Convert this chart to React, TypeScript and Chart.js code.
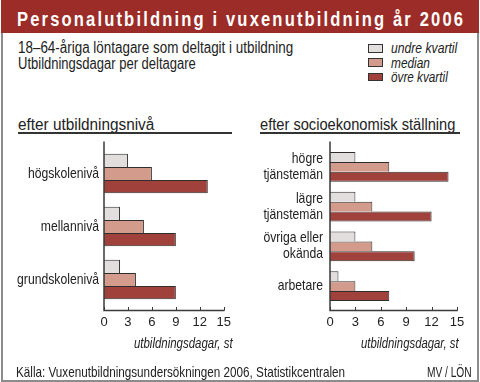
import React, { useEffect, useLayoutEffect, useRef } from "react";
import { Chart, registerables } from "chart.js";

Chart.register(...registerables);

const FONT = "'Liberation Sans', Arial, sans-serif";
const LABEL_SX = 0.84;

const seriesNames = ["undre kvartil", "median", "övre kvartil"];
const seriesColors = ["#e2dede", "#d39b8b", "#a0423b"];

const eduCategories = ["högskolenivå", "mellannivå", "grundskolenivå"];
const eduLower = [3, 2, 2];
const eduMedian = [6, 5, 4];
const eduUpper = [13, 9, 9];

const socCategories = [["högre", "tjänstemän"], ["lägre", "tjänstemän"], ["övriga eller", "okända"], ["arbetare"]];
const socLower = [3, 3, 3, 1];
const socMedian = [7, 5, 5, 3];
const socUpper = [14, 12, 10, 7];

const xTickStep = 3;
const xMax = 15;

const axisPlugin = {
  id: "axisLines",
  afterDatasetsDraw(chart: any) {
    const { ctx, chartArea } = chart;
    const { left, right, top, bottom } = chartArea;
    const xs = chart.scales.x;
    const ext = 4.5;
    ctx.save();
    ctx.strokeStyle = "#3a3a3a";
    ctx.lineWidth = 1.5;
    ctx.beginPath();
    ctx.moveTo(left, top - ext - 1);
    ctx.lineTo(left, bottom + ext);
    ctx.lineTo(right + 0.75, bottom + ext);
    ctx.stroke();
    ctx.lineWidth = 1;
    xs.ticks.forEach((t: any) => {
      const px = Math.round(xs.getPixelForValue(t.value)) + 0.5;
      ctx.beginPath();
      ctx.moveTo(px, bottom + ext);
      ctx.lineTo(px, bottom + ext - 3.5);
      ctx.stroke();
    });
    ctx.restore();
  },
};

const condensedLabels = {
  id: "condensedLabels",
  afterDraw(chart: any) {
    const ctx = chart.ctx;
    const scale = chart.scales.y;
    const items = scale.getLabelItems();
    items.forEach((item: any) => {
      const { label, font, textOffset, options } = item;
      const [tx, ty] = options.translation;
      ctx.save();
      ctx.translate(tx, ty);
      ctx.rotate(options.rotation || 0);
      ctx.scale(LABEL_SX, 1);
      ctx.font = font.string;
      ctx.fillStyle = "#222";
      ctx.textAlign = options.textAlign;
      ctx.textBaseline = options.textBaseline;
      const lines = Array.isArray(label) ? label : [label];
      lines.forEach((l: any, i: number) => ctx.fillText(String(l), 0, textOffset + i * font.lineHeight));
      ctx.restore();
    });
  },
};

function makeDatasets(lower: number[], median: number[], upper: number[]) {
  const vals = [lower, median, upper];
  return vals.map((d, i) => ({
    label: seriesNames[i],
    data: d,
    backgroundColor: seriesColors[i],
    borderColor: "#2e2e2e",
    borderWidth: i === 2 ? { top: 1, right: 1, bottom: 1, left: 0 } : { top: 1, right: 1, bottom: 0, left: 0 },
    borderSkipped: false,
    categoryPercentage: 0.745,
    barPercentage: 1.0,
  }));
}

function Panel(props: { left: number; width: number; labels: any[]; lower: number[]; median: number[]; upper: number[]; rightPad: number; labelPad: number }) {
  const ref = useRef<HTMLCanvasElement>(null);
  useEffect(() => {
    const chart = new Chart(ref.current as HTMLCanvasElement, {
      type: "bar",
      data: { labels: props.labels, datasets: makeDatasets(props.lower, props.median, props.upper) as any },
      options: {
        indexAxis: "y",
        responsive: false,
        animation: false,
        devicePixelRatio: 1,
        layout: { padding: { top: 17, right: props.rightPad, left: 0, bottom: 0 } },
        plugins: { legend: { display: false }, tooltip: { enabled: false } },
        scales: {
          x: {
            min: 0,
            max: xMax,
            ticks: { stepSize: xTickStep, font: { family: FONT, size: 13 }, color: "#222", padding: 9, maxRotation: 0 },
            grid: { display: false, drawTicks: false },
            border: { display: false },
            afterFit: (s: any) => { s.height = 34; },
          },
          y: {
            ticks: { font: { family: FONT, size: 14.5, lineHeight: 16 / 14.5 }, color: "rgba(0,0,0,0)", padding: props.labelPad },
            grid: { display: false, drawTicks: false },
            border: { display: false },
            afterFit: (s: any) => { s.width = 104; },
          },
        },
      } as any,
      plugins: [axisPlugin, condensedLabels],
    });
    return () => chart.destroy();
  }, []);
  return (
    <canvas
      ref={ref}
      width={props.width}
      height={210}
      style={{ position: "absolute", left: props.left, top: 130, width: props.width, height: 210 }}
    />
  );
}

function T(props: { x: number; y: number; size: number; w: number; italic?: boolean; bold?: boolean; right?: boolean; color?: string; spacing?: number; children: any }) {
  const ref = useRef<HTMLSpanElement>(null);
  useLayoutEffect(() => {
    const el = ref.current;
    if (!el) return;
    const nat = el.offsetWidth;
    if (nat > 0) el.style.transform = `scaleX(${props.w / nat})`;
  }, []);
  const lh = 18;
  const st: any = {
    position: "absolute",
    top: props.y - lh / 2,
    fontFamily: FONT,
    fontSize: props.size,
    lineHeight: lh + "px",
    fontStyle: props.italic ? "italic" : "normal",
    fontWeight: props.bold ? "bold" : "normal",
    letterSpacing: props.spacing ? props.spacing + "px" : undefined,
    color: props.color || "#222",
    whiteSpace: "nowrap",
    display: "inline-block",
    transformOrigin: props.right ? "right center" : "left center",
  };
  if (props.right) st.right = 480 - props.x;
  else st.left = props.x;
  return <span ref={ref} style={st}>{props.children}</span>;
}

const legendWidths = [66, 39, 57];

export default function App() {
  return (
    <div style={{ position: "absolute", left: 0, top: 0, width: 480, height: 382, background: "#fff", overflow: "hidden" }}>
      <div style={{ position: "absolute", left: 1, top: 0, width: 478, height: 382, boxSizing: "border-box", border: "2px solid #8c8c8c", borderTop: "none" }} />
      <div style={{ position: "absolute", left: 1, top: 0, width: 478, height: 33, background: "#9c2c27" }} />
      <T x={17} y={19} size={20} w={448} bold spacing={2.6} color="#fff">
        Personalutbildning i vuxenutbildning år 2006
      </T>
      <T x={18} y={47.5} size={16} w={275}>18–64-åriga löntagare som deltagit i utbildning</T>
      <T x={18} y={63.5} size={16} w={178}>Utbildningsdagar per deltagare</T>

      {seriesNames.map((n, i) => (
        <React.Fragment key={n}>
          <div style={{ position: "absolute", left: 368, top: 44 + i * 14.3, width: 15, height: 8.5, boxSizing: "border-box", border: "1px solid #333", background: seriesColors[i] }} />
          <T x={391} y={48 + i * 14.6} size={14} w={legendWidths[i]} italic>{n}</T>
        </React.Fragment>
      ))}

      <T x={18} y={125} size={16} w={136}>efter utbildningsnivå</T>
      <div style={{ position: "absolute", left: 18, top: 132, width: 214, height: 1.5, background: "#333" }} />
      <T x={260} y={125} size={16} w={195}>efter socioekonomisk ställning</T>
      <div style={{ position: "absolute", left: 260, top: 132, width: 200, height: 1.5, background: "#333" }} />

      <Panel left={0} width={240} labels={eduCategories} lower={eduLower} median={eduMedian} upper={eduUpper} rightPad={9} labelPad={5} />
      <Panel left={226} width={254} labels={socCategories} lower={socLower} median={socMedian} upper={socUpper} rightPad={23} labelPad={7} />

      <T x={233} y={342.5} size={14} w={99} italic right>utbildningsdagar, st</T>
      <T x={459} y={342.5} size={14} w={98} italic right>utbildningsdagar, st</T>

      <T x={16} y={372} size={14.5} w={329}>Källa: Vuxenutbildningsundersökningen 2006, Statistikcentralen</T>
      <T x={472} y={372} size={14.5} w={45} right>MV / LÖN</T>
    </div>
  );
}
